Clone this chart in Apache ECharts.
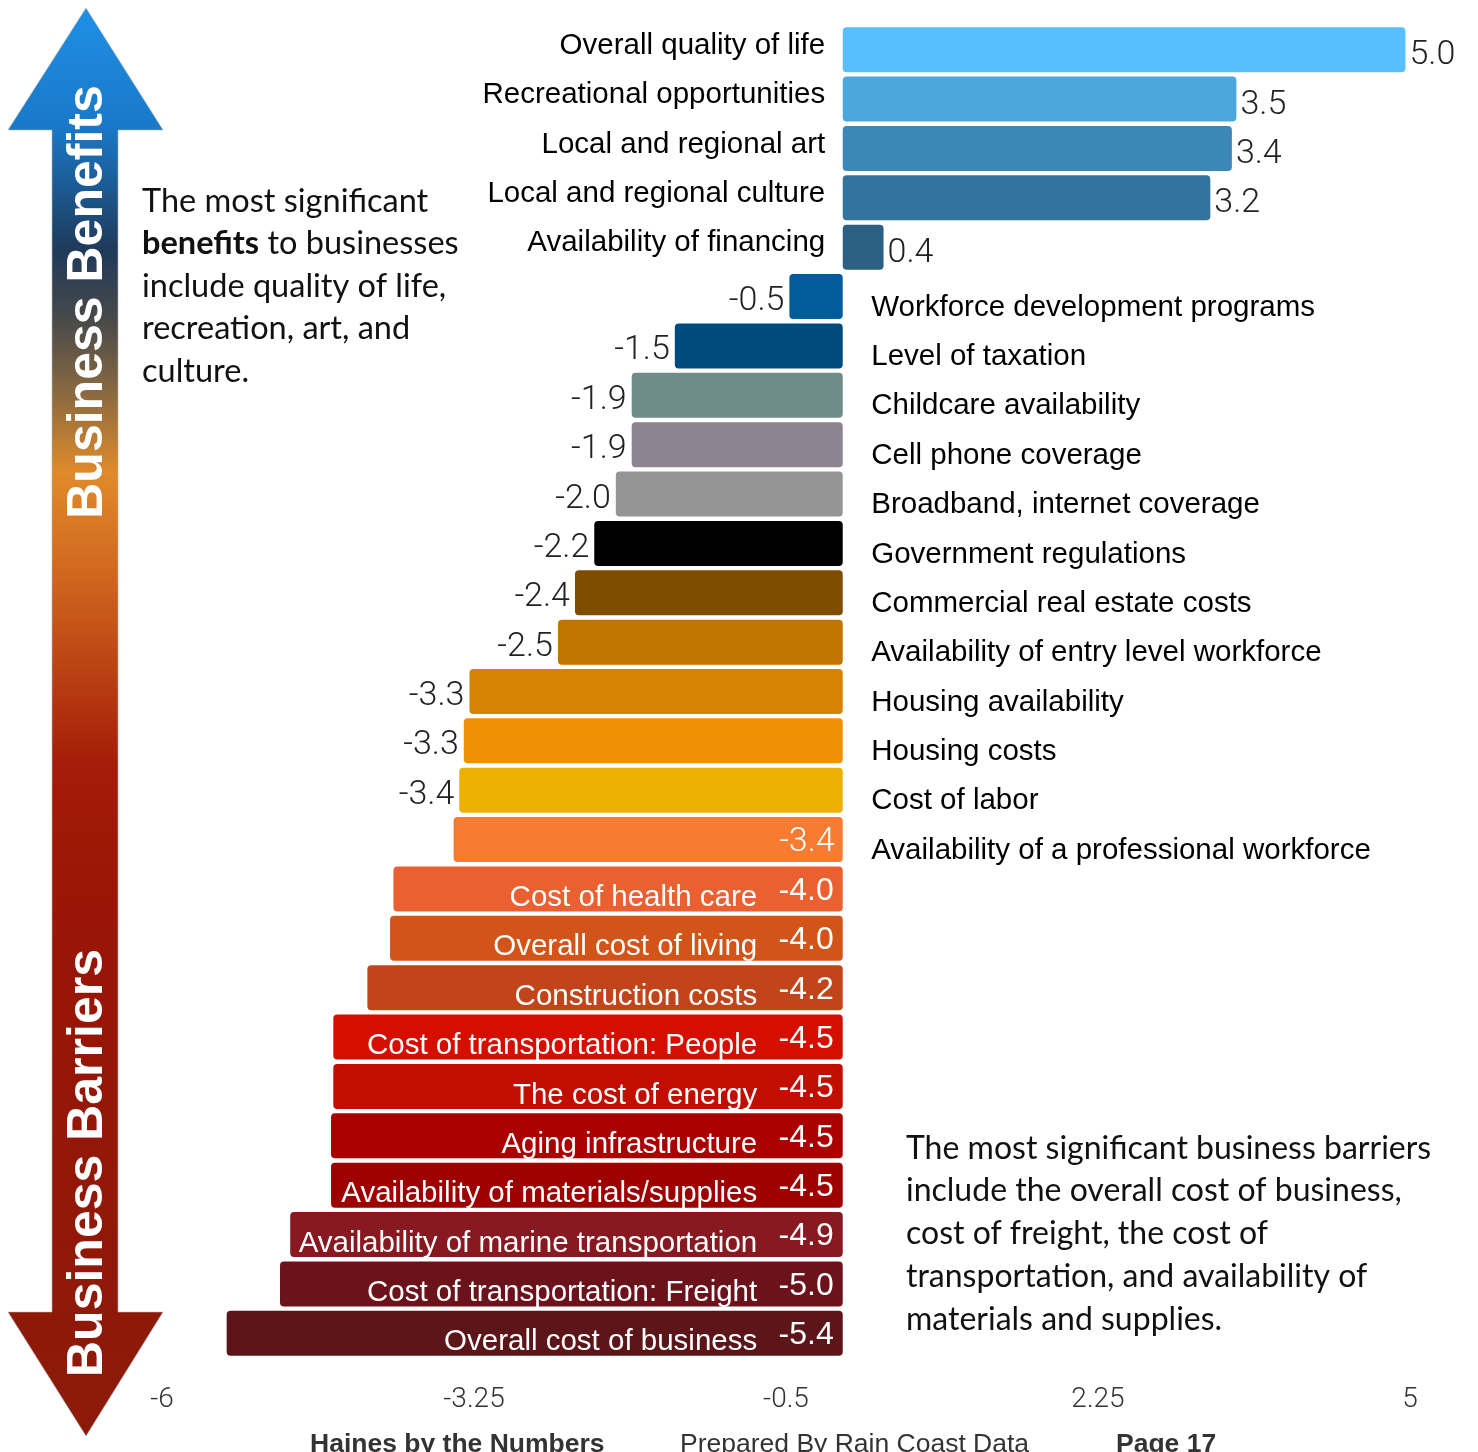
<!DOCTYPE html>
<html>
<head>
<meta charset="utf-8">
<style>
html,body{margin:0;padding:0;background:#fff;}
#chart{width:1478px;height:1452px;}
</style>
<script src="https://cdn.jsdelivr.net/npm/echarts@6/dist/echarts.min.js"></script>
</head>
<body>
<div id="chart"></div>
<script>
// ---- data ----
const categories = [
  'Overall quality of life',
  'Recreational opportunities',
  'Local and regional art',
  'Local and regional culture',
  'Availability of financing',
  'Workforce development programs',
  'Level of taxation',
  'Childcare availability',
  'Cell phone coverage',
  'Broadband, internet coverage',
  'Government regulations',
  'Commercial real estate costs',
  'Availability of entry level workforce',
  'Housing availability',
  'Housing costs',
  'Cost of labor',
  'Availability of a professional workforce',
  'Cost of health care',
  'Overall cost of living',
  'Construction costs',
  'Cost of transportation: People',
  'The cost of energy',
  'Aging infrastructure',
  'Availability of materials/supplies',
  'Availability of marine transportation',
  'Cost of transportation: Freight',
  'Overall cost of business'
];
const values = [
  4.96, 3.47, 3.43, 3.24, 0.36,
  -0.47, -1.48, -1.86, -1.86, -2.0, -2.19, -2.36, -2.51,
  -3.29, -3.34, -3.38, -3.43,
  -3.96, -3.99, -4.19, -4.49, -4.49, -4.51, -4.51, -4.87, -4.96, -5.43
];
const xMin = -6, xMax = 5, xInterval = 2.75;

const benefitsNote = ['The most significant', '{b|benefits} to businesses', 'include quality of life,', 'recreation, art, and', 'culture.'];
const barriersNote = ['The most significant business barriers', 'include the overall cost of business,', 'cost of freight, the cost of', 'transportation, and availability of', 'materials and supplies.'];
const footer = ['Haines by the Numbers', 'Prepared By Rain Coast Data', 'Page 17'];

// ---- styles ----
const barColors = [
  '#58BFFF', '#4BA8DF', '#3B87B5', '#33749E', '#2B6083',
  '#005C9A', '#004B7E', '#6E8C8A', '#8D8491', '#959595', '#000000', '#7F4D00', '#BF7500',
  '#D68303', '#F09005', '#ECB100', '#F77C31',
  '#EA6030', '#D35418', '#C1441A', '#D50F00', '#C20E00', '#AA0000', '#9E0000', '#881920', '#6C121A', '#5C1619'
];
const VALUE_INSIDE_FROM = 16;
const NAME_INSIDE_FROM = 17;
const SANS = '"Liberation Sans", Arial, sans-serif';
const THIN = 'Roboto, "Liberation Sans", sans-serif';
const NOTE = 'Lato, "Open Sans", sans-serif';

function valueLabel(v, i) {
  const txt = v.toFixed(1);
  const thin = {show: true, formatter: txt, fontFamily: THIN, fontWeight: 300, fontSize: 34, offset: [0, 5]};
  if (v > 0) return Object.assign(thin, {position: 'right', distance: 4, color: '#222', offset: [0, 6]});
  if (i < VALUE_INSIDE_FROM) return Object.assign(thin, {position: 'left', distance: 5, color: '#222'});
  if (i < NAME_INSIDE_FROM) return Object.assign(thin, {position: 'insideRight', distance: 8, color: '#fff', offset: [0, 3]});
  return {show: true, formatter: txt, position: 'insideRight', distance: 9, color: '#fff',
          fontFamily: SANS, fontSize: 32, offset: [0, 2]};
}
function nameLabel(v, i) {
  const base = {show: true, formatter: categories[i], fontFamily: SANS, fontSize: 29.5, color: '#000'};
  if (v > 0) return Object.assign(base, {position: 'left', distance: 17, offset: [0, -4]});
  if (i < NAME_INSIDE_FROM) return Object.assign(base, {position: 'right', distance: 28, offset: [0, 11]});
  return Object.assign(base, {position: 'left', distance: 85, color: '#fff', offset: [0, 9]});
}

const barData = values.map((v, i) => ({
  value: v,
  itemStyle: {color: barColors[i], borderRadius: 4},
  label: valueLabel(v, i)
}));
const nameData = values.map((v, i) => ({
  value: [0, categories[i]],
  label: nameLabel(v, i)
}));

const arrowGradient = new echarts.graphic.LinearGradient(0, 0, 0, 1, [
  {offset: 0.00, color: '#1E90E6'},
  {offset: 0.084, color: '#1A78C8'},
  {offset: 0.17, color: '#1F3A5A'},
  {offset: 0.22, color: '#4A4A4A'},
  {offset: 0.27, color: '#8A6A40'},
  {offset: 0.325, color: '#E08A2A'},
  {offset: 0.39, color: '#D26A20'},
  {offset: 0.45, color: '#BF4A16'},
  {offset: 0.53, color: '#A51C08'},
  {offset: 0.63, color: '#9A1505'},
  {offset: 1.00, color: '#8C1A0A'}
]);

const chart = echarts.init(document.getElementById('chart'), null, {renderer: 'canvas'});
chart.setOption({
  animation: false,
  backgroundColor: '#fff',
  grid: {left: 162, right: 68, top: 25, bottom: 94, containLabel: false},
  xAxis: {
    type: 'value', min: xMin, max: xMax, interval: xInterval,
    axisLine: {show: false}, axisTick: {show: false}, splitLine: {show: false},
    axisLabel: {fontFamily: THIN, fontWeight: 300, fontSize: 28, color: '#333', margin: 28}
  },
  yAxis: {
    type: 'category', data: categories, inverse: true,
    axisLine: {show: false}, axisTick: {show: false}, axisLabel: {show: false}, splitLine: {show: false}
  },
  series: [
    {type: 'bar', data: barData, barWidth: 45, z: 2},
    {type: 'scatter', data: nameData, symbolSize: 1, itemStyle: {color: 'transparent', opacity: 1}, z: 3, silent: true}
  ],
  graphic: [
    {
      type: 'polygon', z: 0,
      shape: {points: [[86, 8], [163, 130], [118, 130], [118, 1312], [163, 1312], [86, 1436], [8, 1312], [52, 1312], [52, 130], [8, 130]]},
      style: {fill: arrowGradient, stroke: 'rgba(180,180,180,0.6)', lineWidth: 1}
    },
    {
      type: 'text', x: 88, y: 302, rotation: Math.PI / 2, z: 5,
      style: {text: 'Business Benefits', fill: '#fff', font: 'bold 50px ' + SANS, textAlign: 'center', textVerticalAlign: 'middle'}
    },
    {
      type: 'text', x: 88, y: 1163, rotation: Math.PI / 2, z: 5,
      style: {text: 'Business Barriers', fill: '#fff', font: 'bold 50px ' + SANS, textAlign: 'center', textVerticalAlign: 'middle'}
    },
    {
      type: 'text', x: 142, y: 180, z: 5,
      style: {
        text: benefitsNote.join('\n'), fill: '#111', fontFamily: NOTE, fontSize: 32.5, lineHeight: 42.5,
        textAlign: 'left', textVerticalAlign: 'top',
        rich: {b: {fontFamily: NOTE, fontSize: 32.5, fontWeight: 'bold', fill: '#111', lineHeight: 42.5}}
      }
    },
    {
      type: 'text', x: 906, y: 1127, z: 5,
      style: {
        text: barriersNote.join('\n'), fill: '#111', fontFamily: NOTE, fontSize: 32, lineHeight: 42.75,
        textAlign: 'left', textVerticalAlign: 'top'
      }
    },
    {
      type: 'text', x: 310, y: 1445, z: 5,
      style: {text: footer[0], fill: '#333', font: 'bold 26.5px ' + SANS, textAlign: 'left', textVerticalAlign: 'middle'}
    },
    {
      type: 'text', x: 680, y: 1445, z: 5,
      style: {text: footer[1], fill: '#333', font: '26.5px ' + SANS, textAlign: 'left', textVerticalAlign: 'middle'}
    },
    {
      type: 'text', x: 1116, y: 1445, z: 5,
      style: {text: footer[2], fill: '#333', font: 'bold 26.5px ' + SANS, textAlign: 'left', textVerticalAlign: 'middle'}
    }
  ]
});
</script>
</body>
</html>
